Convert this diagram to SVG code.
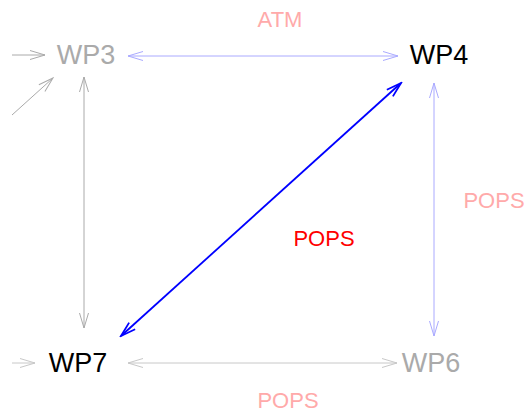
<svg xmlns="http://www.w3.org/2000/svg" width="529" height="414" viewBox="0 0 529 414">
<style>
.node{font-family:"Liberation Sans",Arial,sans-serif;font-size:27px;text-anchor:middle}
.lbl{font-family:"Liberation Sans",Arial,sans-serif;font-size:22px;text-anchor:middle}
.e{fill:none;stroke-width:1}
.e.thick{stroke-width:1.8}
</style>
<defs>
<marker id="mg" markerUnits="userSpaceOnUse" viewBox="-16 -6 18 12" refX="0" refY="0" markerWidth="18" markerHeight="12" orient="auto-start-reverse"><path d="M-15,-4.5 L0,0 L-15,4.5" fill="none" stroke="#aaaaaa" stroke-width="1"/></marker>
<marker id="ml" markerUnits="userSpaceOnUse" viewBox="-16 -6 18 12" refX="0" refY="0" markerWidth="18" markerHeight="12" orient="auto-start-reverse"><path d="M-15,-4.5 L0,0 L-15,4.5" fill="none" stroke="#c8c8c8" stroke-width="1"/></marker>
<marker id="mb" markerUnits="userSpaceOnUse" viewBox="-16 -6 18 12" refX="0" refY="0" markerWidth="18" markerHeight="12" orient="auto-start-reverse"><path d="M-15,-4.5 L0,0 L-15,4.5" fill="none" stroke="#aaaaff" stroke-width="1"/></marker>
<marker id="mB" markerUnits="userSpaceOnUse" viewBox="-16 -6 18 12" refX="0" refY="0" markerWidth="18" markerHeight="12" orient="auto-start-reverse"><path d="M-15,-4.5 L0,0 L-15,4.5" fill="none" stroke="#0000ff" stroke-width="1.8"/></marker>
</defs>
<rect width="529" height="414" fill="#ffffff"/>
<g id="connectors">
<line class="e" x1="12" y1="55" x2="45" y2="55" stroke="#aaaaaa" marker-end="url(#mg)"/>
<line class="e" x1="12" y1="115" x2="53" y2="78" stroke="#aaaaaa" marker-end="url(#mg)"/>
<line class="e" x1="12" y1="363" x2="35" y2="363" stroke="#c8c8c8" marker-end="url(#ml)"/>
<line class="e" x1="128" y1="56" x2="398" y2="56" stroke="#aaaaff" marker-start="url(#mb)" marker-end="url(#mb)"/>
<line class="e" x1="84" y1="77" x2="84" y2="328" stroke="#aaaaaa" marker-start="url(#mg)" marker-end="url(#mg)"/>
<line class="e" x1="434" y1="83" x2="434" y2="336" stroke="#aaaaff" marker-start="url(#mb)" marker-end="url(#mb)"/>
<line class="e" x1="128" y1="363" x2="397" y2="363" stroke="#c8c8c8" marker-start="url(#ml)" marker-end="url(#ml)"/>
<line class="e thick" x1="401" y1="83" x2="121" y2="336" stroke="#0000ff" marker-start="url(#mB)" marker-end="url(#mB)"/>
<text class="lbl" x="280" y="27" fill="#ffaaaa">ATM</text>
<text class="lbl" x="324" y="246" fill="#ff0000">POPS</text>
<text class="lbl" x="494" y="208" fill="#ffaaaa">POPS</text>
<text class="lbl" x="288" y="408" fill="#ffaaaa">POPS</text>
</g>
<g id="WP3"><text class="node" x="86" y="64" fill="#aaaaaa">WP3</text></g>
<g id="WP4"><text class="node" x="439" y="64" fill="#000000">WP4</text></g>
<g id="WP7"><text class="node" x="78" y="372" fill="#000000">WP7</text></g>
<g id="WP6"><text class="node" x="431" y="372" fill="#aaaaaa">WP6</text></g>
</svg>
